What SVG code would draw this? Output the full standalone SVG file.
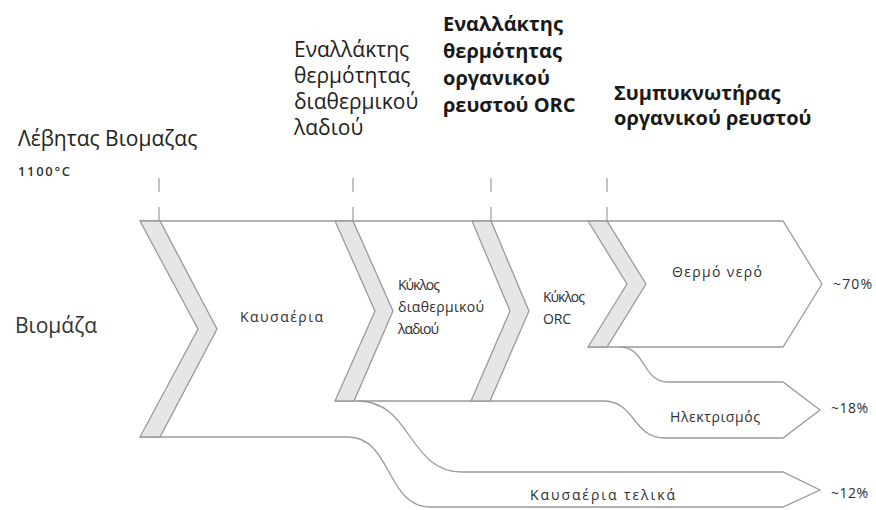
<svg xmlns="http://www.w3.org/2000/svg" width="876" height="510" viewBox="0 0 876 510">
  <style>
    .hdr { font-family: "Open Sans", "DejaVu Sans", sans-serif; font-size: 21px; fill: #222; }
    .hdrb { font-family: "Open Sans", "DejaVu Sans", sans-serif; font-size: 20px; font-weight: bold; fill: #1a1a1a; }
    .lbl { font-family: "Open Sans", "DejaVu Sans", sans-serif; font-size: 14px; fill: #2e2e2e; }
    .tmp { font-family: "Open Sans", "DejaVu Sans", sans-serif; font-size: 13px; font-weight: 600; fill: #333; }
    .big { font-family: "Open Sans", "DejaVu Sans", sans-serif; font-size: 21px; fill: #333; }
    .edge { fill: none; stroke: #9a9a9a; stroke-width: 1.3; }
    .band { fill: #e6e6e6; stroke: #9a9a9a; stroke-width: 1.3; stroke-linejoin: miter; }
    .tick { stroke: #9a9a9a; stroke-width: 1.2; }
  </style>

  <rect x="0" y="0" width="876" height="510" fill="#ffffff"/>

  <!-- header labels -->
  <g id="boiler-header">
    <text class="hdr" x="18" y="146">Λέβητας Βιομαζας</text>
    <text class="tmp" x="18" y="176" textLength="52">1100°C</text>
    <line class="tick" x1="159" y1="178" x2="159" y2="192"/>
    <line class="tick" x1="159" y1="207" x2="159" y2="221"/>
  </g>
  <g id="oil-exchanger-header">
    <text class="hdr" x="294" y="57">Εναλλάκτης</text>
    <text class="hdr" x="294" y="83">θερμότητας</text>
    <text class="hdr" x="294" y="109">διαθερμικού</text>
    <text class="hdr" x="294" y="135">λαδιού</text>
    <line class="tick" x1="353" y1="178" x2="353" y2="192"/>
    <line class="tick" x1="353" y1="207" x2="353" y2="221"/>
  </g>
  <g id="orc-exchanger-header">
    <text class="hdrb" x="443" y="31">Εναλλάκτης</text>
    <text class="hdrb" x="443" y="58">θερμότητας</text>
    <text class="hdrb" x="443" y="85">οργανικού</text>
    <text class="hdrb" x="443" y="112">ρευστού ORC</text>
    <line class="tick" x1="491" y1="178" x2="491" y2="192"/>
    <line class="tick" x1="491" y1="207" x2="491" y2="221"/>
  </g>
  <g id="condenser-header">
    <text class="hdrb" x="614" y="100">Συμπυκνωτήρας</text>
    <text class="hdrb" x="614" y="125">οργανικού ρευστού</text>
    <line class="tick" x1="607" y1="178" x2="607" y2="192"/>
    <line class="tick" x1="607" y1="207" x2="607" y2="221"/>
  </g>

  <g id="biomass">
    <text class="big" x="15" y="333">Βιομάζα</text>
  </g>

  <!-- connectors: outline of the flows -->
  <g id="connectors">
    <path class="edge" d="M140,221 L783,221 L822,284 L783,347 L588,347"/>
    <path class="edge" d="M620,347 C646,347 642,382 668,382 L783,382 L820,410 L783,438 L665,438 C632,438 636,401 603,401 L335,401"/>
    <path class="edge" d="M358,401 C412,401 408,472 462,472 L783,472 L820,490 L783,507 L430,507 C386,507 392,437 348,437 L140,437"/>
  </g>

  <g id="flue-gas">
    <polygon class="band" points="140,221 160,221 217,329 160,437 140,437 198,329"/>
    <text class="lbl" x="240" y="322" textLength="83">Καυσαέρια</text>
  </g>

  <g id="oil-cycle">
    <polygon class="band" points="335,221 353,221 393,311 354,401 335,401 375,311"/>
    <text class="lbl" x="398" y="290" textLength="42">Κύκλος</text>
    <text class="lbl" x="398" y="312" textLength="86">διαθερμικού</text>
    <text class="lbl" x="398" y="334" textLength="41">λαδιού</text>
  </g>

  <g id="orc-cycle">
    <polygon class="band" points="472,221 491,221 529,311 490,401 471,401 510,311"/>
    <text class="lbl" x="543" y="302" textLength="42">Κύκλος</text>
    <text class="lbl" x="543" y="324" textLength="28">ORC</text>
  </g>

  <g id="hot-water">
    <polygon class="band" points="588,221 607,221 646,284 607,347 588,347 627,284"/>
    <text class="lbl" x="672" y="277" textLength="90">Θερμό νερό</text>
    <text class="lbl" x="833" y="289" textLength="39">~70%</text>
  </g>

  <g id="electricity">
    <text class="lbl" x="670" y="422" textLength="90">Ηλεκτρισμός</text>
    <text class="lbl" x="831" y="413" textLength="37">~18%</text>
  </g>

  <g id="final-flue-gas">
    <text class="lbl" x="530" y="500" textLength="145">Καυσαέρια τελικά</text>
    <text class="lbl" x="831" y="498" textLength="37">~12%</text>
  </g>
</svg>
